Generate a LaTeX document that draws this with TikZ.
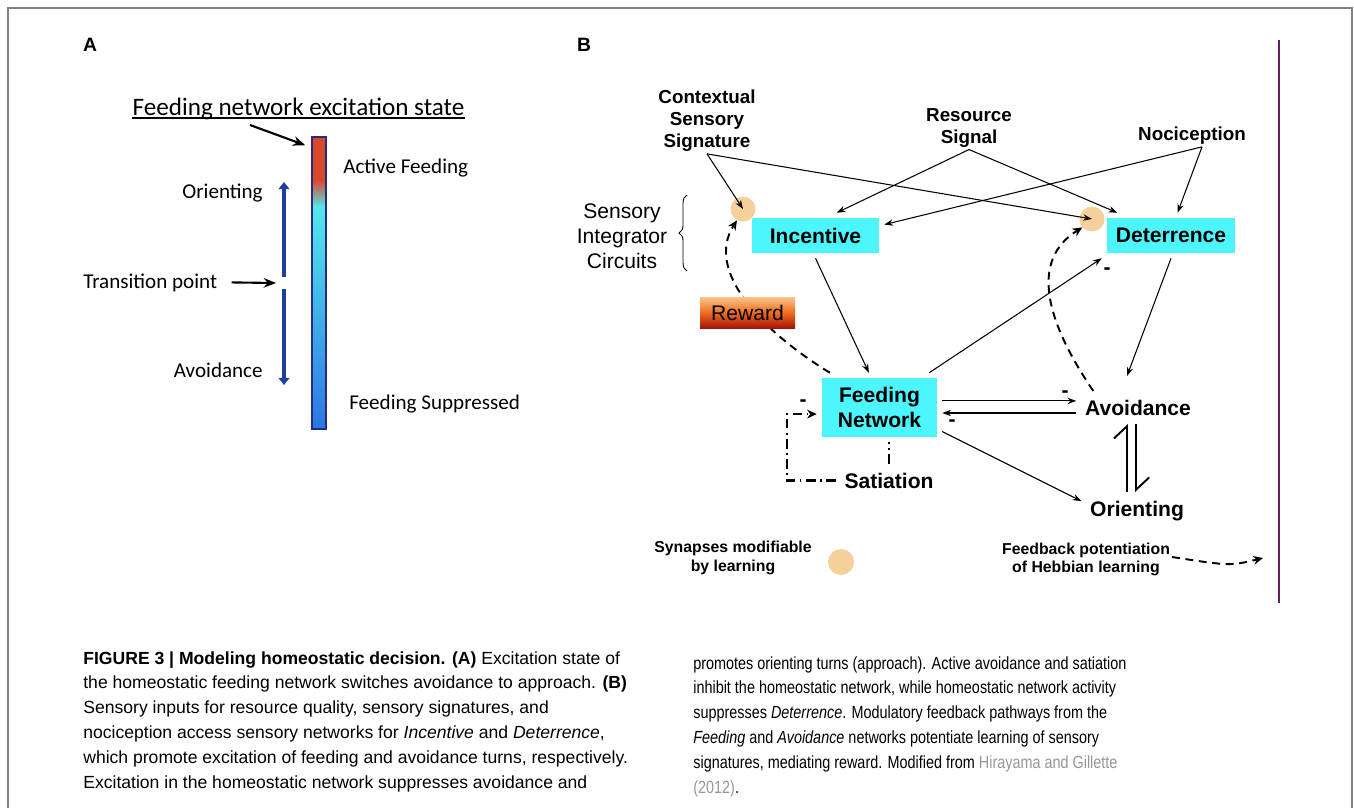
\documentclass[tikz,border=0pt]{standalone}
\usepackage{fontspec}
\setmainfont{Liberation Sans}
\newfontfamily\calibfont{Carlito}
\newfontfamily\capfont[FakeStretch=0.82]{Liberation Sans}
\newfontfamily\capwide{Liberation Sans}
\usetikzlibrary{arrows.meta,decorations.pathreplacing}

\definecolor{boxcyan}{RGB}{77,246,252}
\definecolor{synorange}{RGB}{245,208,155}
\definecolor{barred}{RGB}{218,72,42}
\definecolor{barcyan}{RGB}{82,232,236}
\definecolor{barblue}{RGB}{44,118,228}
\definecolor{bardark}{RGB}{38,42,130}
\definecolor{dirblue}{RGB}{32,62,160}
\definecolor{rewtop}{RGB}{250,196,140}
\definecolor{rewmid}{RGB}{238,110,30}
\definecolor{rewbot}{RGB}{165,20,10}
\definecolor{edgeline}{RGB}{128,128,128}
\definecolor{rulepurple}{RGB}{110,30,95}
\definecolor{citegray}{RGB}{150,150,150}

\begin{document}
\begin{tikzpicture}[x=0.02cm,y=-0.02cm,>={Stealth[length=5pt,width=3.6pt]},
        box/.style={fill=boxcyan,align=center,font=\bfseries\fontsize{12}{14}\selectfont,inner sep=0pt,outer sep=3pt},
        tag/.style={align=center,font=\bfseries\fontsize{10.7}{12.5}\selectfont,inner sep=1pt},
        beh/.style={font=\bfseries\fontsize{12}{14}\selectfont,inner sep=2pt,outer sep=3pt},
        synapse/.style={circle,fill=synorange,minimum size=0.5cm,inner sep=0pt},
        legend/.style={align=center,font=\bfseries\fontsize{9}{10.4}\selectfont,inner sep=1pt},
        minus/.style={font=\bfseries\fontsize{12}{14}\selectfont,inner sep=0pt},
        wire/.style={->,line width=0.6pt},
        feedback/.style={-{Stealth[length=5.5pt,width=5pt]},line width=1.1pt,dash pattern=on 4.5pt off 3.2pt},
        satline/.style={-{Stealth[length=5.5pt,width=5pt]},line width=1.3pt,dash pattern=on 5.5pt off 2.5pt on 1pt off 2.5pt},
        turn/.style={line width=1.1pt,-{Straight Barb[harpoon,length=7pt,width=15pt]}},
        lab/.style={font=\calibfont\fontsize{12}{14}\selectfont,inner sep=0pt},
        thickarrow/.style={-{Stealth[length=7pt,width=5.5pt]},line width=1.2pt},
        dirarrow/.style={dirblue,line width=2.2pt,-{Triangle[length=4pt,width=6pt]}}]
        % frame
        \useasboundingbox (0,0) rectangle (1354,808);
        \draw[edgeline,line width=0.8pt] (8,808) -- (8,8) -- (1352,8) -- (1352,808);
        \draw[rulepurple,line width=1.2pt] (1279,40) -- (1279,603);

        % panel A
        \node[font=\bfseries\fontsize{11}{13}\selectfont,anchor=base] (pa) at (90,51) {A};
        \node[lab,font=\calibfont\fontsize{14.3}{16}\selectfont,anchor=base] (title) at (298.5,115) {Feeding network excitation state};
        \draw[line width=0.85pt] ([yshift=-1.8pt]title.base west) -- ([yshift=-1.8pt]title.base east);

        \fill[barred] (312,137) rectangle (326,180);
        \shade[top color=barred,bottom color=barcyan] (312,180) rectangle (326,207);
        \shade[top color=barcyan,bottom color=barblue] (312,207) rectangle (326,429);
        \node[draw=bardark,line width=0.9pt,minimum width=0.28cm,minimum height=5.84cm,inner sep=0pt] (bar) at (319,283) {};
        \draw[thickarrow] ([xshift=-0.97cm,yshift=-0.2cm]title.base) -- ([xshift=-0.12cm,yshift=-0.18cm]bar.north west);

        \node[lab,anchor=base west] (actf) at (343,173) {Active Feeding};
        \node[lab,anchor=base east] (orl) at (263,198) {Orienting};
        \node[lab,anchor=base west] (tp) at (83,288) {Transition point};
        \node[lab,anchor=base east] (avl) at (263,377) {Avoidance};
        \node[lab,anchor=base west] (fsup) at (349,409) {Feeding Suppressed};

        \coordinate (gap) at (276,283);
        \draw[thickarrow] ([xshift=0.28cm]tp.east) -- (gap);
        \draw[dirarrow] (284,277) -- (284,182);
        \draw[dirarrow] (284,289) -- (284,385);

        % panel B nodes
        \node[font=\bfseries\fontsize{11}{13}\selectfont,anchor=base] (pb) at (584,51) {B};
        \node[synapse] (syn1) at (743,209) {};
        \node[synapse] (syn2) at (1092,219) {};
        \node[box,minimum width=2.54cm,minimum height=0.7cm] (inc) at (815.5,235.5) {Incentive};
        \node[box,minimum width=2.56cm,minimum height=0.7cm] (det) at (1171,235.5) {Deterrence};
        \node[box,minimum width=2.3cm,minimum height=1.18cm] (fn) at (879.5,407.5) {Feeding\\Network};

        \node[tag] (ctx) at (707,121) {Contextual\\Sensory\\Signature};
        \node[tag] (res) at (969,128) {Resource\\Signal};
        \node[tag] (noc) at (1192,136) {Nociception};
        \node[font=\fontsize{12}{14.2}\selectfont,align=center] (sic) at (622,236) {Sensory\\Integrator\\Circuits};
        \draw[decorate,decoration={brace,amplitude=4.5pt},line width=0.5pt] (687,271) -- (687,195);

        \node[beh,anchor=base] (avd) at (1138,415) {Avoidance};
        \node[beh,anchor=base] (ori) at (1137,516) {Orienting};
        \node[beh,anchor=base] (sat) at (889,488) {Satiation};

        % arrows
        \draw[wire] (ctx.south) -- (syn1.center);
        \draw[wire] (ctx.south) -- (syn2.center);
        \draw[wire] (res.south) -- (inc.47);
        \draw[wire] (res.south) -- (det.157);
        \draw[wire] ([xshift=0.2cm]noc.south) -- (det.74);
        \draw[wire] ([xshift=0.2cm]noc.south) -- (inc.9);
        \draw[wire] (inc.south) -- (fn.107);
        \draw[wire] (fn.35) -- (det.south west);
        \draw[wire] (det.south) -- ([xshift=-0.22cm,yshift=0.3cm]avd.north);
        \draw[wire] (fn.6) -- (fn.6 -| avd.west);
        \draw[wire] (avd.west |- fn.-5) -- (fn.-5);
        \draw[wire] (fn.-21) -- ([yshift=0.19cm]ori.west);
        \draw[turn] ([xshift=-0.2cm]ori.north) -- ([xshift=-0.2cm]ori.north |- avd.south);
        \draw[turn] ([xshift=-0.04cm]avd.south) -- ([xshift=-0.04cm]avd.south |- ori.north);

        \draw[line width=1.3pt,dash pattern=on 5.5pt off 2.5pt on 1pt off 2.5pt] (sat.north) -- (sat.north |- fn.south);
        \draw[satline] (sat.west) -- ++(-49,0) |- (fn.186);

        \node[minus] (m1) at (1107,271) {-};
        \node[minus] (m2) at (1065,394) {-};
        \node[minus] (m3) at (952,423) {-};
        \node[minus] (m4) at (803,403) {-};

        % feedback
        \draw[feedback] (fn.145) .. controls (760,330) and (705,270) .. (syn1.-118);
        \draw[feedback] ([xshift=0.34cm]avd.north west) .. controls (1045,320) and (1030,260) .. (syn2.221);
        \node[top color=rewtop,bottom color=rewbot,middle color=rewmid,minimum width=1.9cm,minimum height=0.62cm,inner sep=0pt,font=\fontsize{12}{14}\selectfont] (rew) at (747.5,312.5) {Reward};

        % legend
        \node[legend] (leg1) at (733,558) {Synapses modifiable\\by learning};
        \node[synapse,minimum size=0.52cm] (legsyn) at (841,562) {};
        \node[legend] (leg2) at (1086,559.5) {Feedback potentiation\\of Hebbian learning};
        \coordinate (fbend) at (1263,558);
        \draw[feedback] ([yshift=0.05cm]leg2.east) .. controls (1230,566) .. (fbend);

        % caption
        \node[anchor=base west,inner sep=0pt] (capl) at (83,664) {\parbox[t]{13cm}{\capwide\fontsize{10}{14.2}\selectfont
          \textbf{FIGURE 3 | Modeling homeostatic decision. (A)} Excitation state of\\
          the homeostatic feeding network switches avoidance to approach. \textbf{(B)}\\
          Sensory inputs for resource quality, sensory signatures, and\\
          nociception access sensory networks for \textit{Incentive} and \textit{Deterrence},\\
          which promote excitation of feeding and avoidance turns, respectively.\\
          Excitation in the homeostatic network suppresses avoidance and}};
        \node[anchor=base west,inner sep=0pt] (capr) at (693,669) {\parbox[t]{11cm}{\capfont\fontsize{10}{14.2}\selectfont
          promotes orienting turns (approach). Active avoidance and satiation\\
          inhibit the homeostatic network, while homeostatic network activity\\
          suppresses \textit{Deterrence}. Modulatory feedback pathways from the\\
          \textit{Feeding} and \textit{Avoidance} networks potentiate learning of sensory\\
          signatures, mediating reward. Modified from \textcolor{citegray}{Hirayama and Gillette}\\
          \textcolor{citegray}{(2012)}.}};
\end{tikzpicture}
\end{document}
